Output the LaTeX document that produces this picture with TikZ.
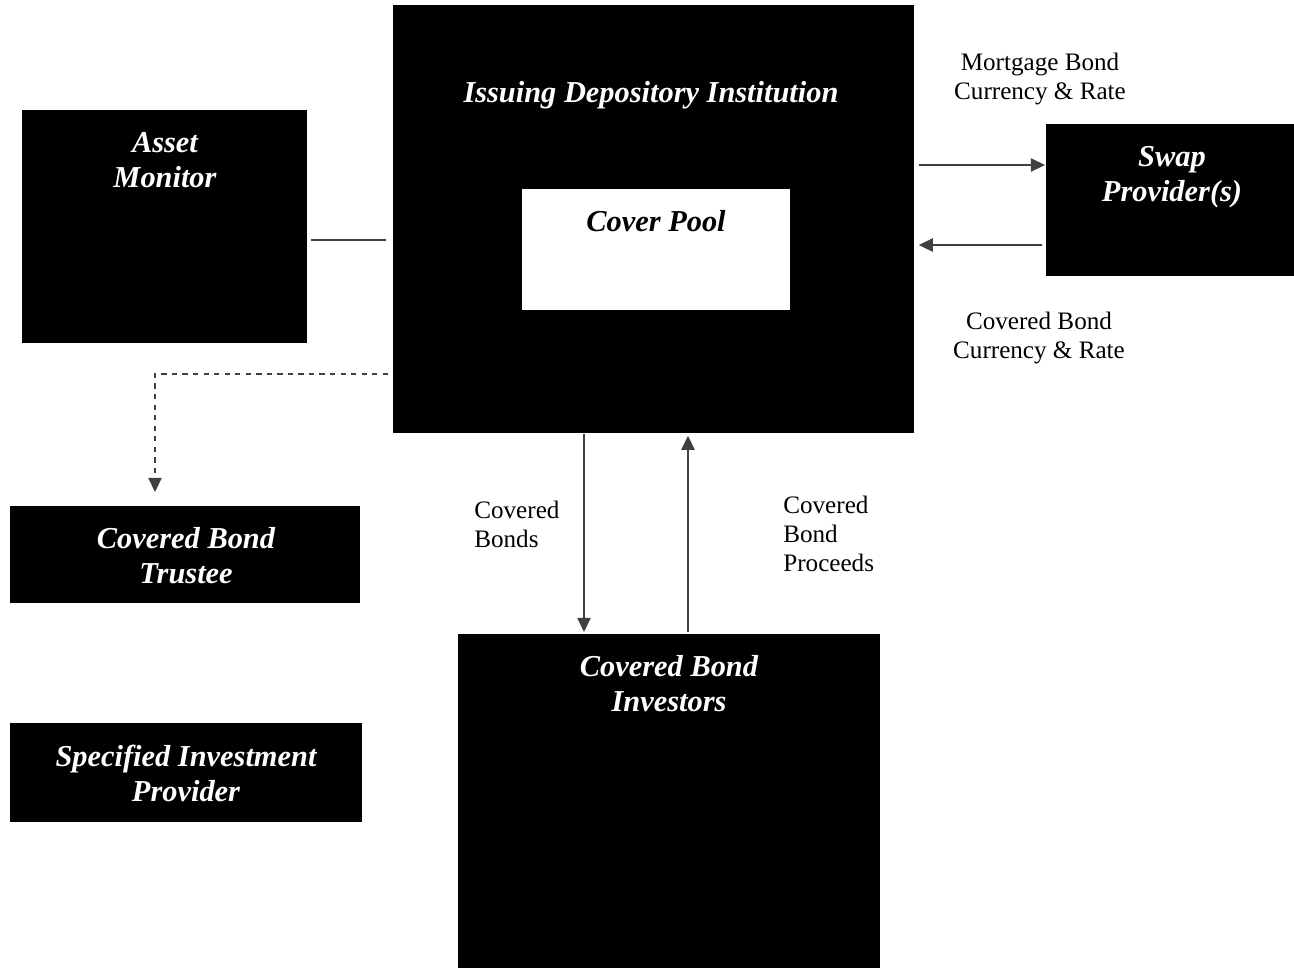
\documentclass[tikz,border=0pt]{standalone}
\usepackage{fontspec}
\setmainfont{Liberation Serif}
\usetikzlibrary{arrows.meta,calc}
\begin{document}
\begin{tikzpicture}[x=0.02cm,y=0.02cm,
  box/.style={draw=none,fill=black,inner sep=0pt,anchor=north west},
  whitebox/.style={draw=none,fill=white,inner sep=0pt,anchor=north west},
  boxtext/.style={text=white,font=\fontsize{17.3}{19.8}\selectfont\bfseries\itshape,align=center,anchor=north,inner sep=0pt},
  lbl/.style={font=\fontsize{14.3}{16.4}\selectfont,align=center,inner sep=0pt,anchor=north},
  conn/.style={draw=black!75,line width=0.8pt},
  tip/.style={-{Triangle[length=8pt,width=7.5pt]}}
]
\useasboundingbox (0,0) rectangle (1294,-968);
% boxes
\node[box,minimum width=285*0.02cm,minimum height=233*0.02cm] (am) at (22,-110) {};
\node[box,minimum width=521*0.02cm,minimum height=428*0.02cm] (idi) at (393,-5) {};
\node[whitebox,minimum width=268*0.02cm,minimum height=121*0.02cm] (pool) at (522,-189) {};
\node[box,minimum width=248*0.02cm,minimum height=152*0.02cm] (swap) at (1046,-124) {};
\node[box,minimum width=350*0.02cm,minimum height=97*0.02cm] (trustee) at (10,-506) {};
\node[box,minimum width=352*0.02cm,minimum height=99*0.02cm] (sip) at (10,-723) {};
\node[box,minimum width=422*0.02cm,minimum height=334*0.02cm] (inv) at (458,-634) {};
% box texts
\node[boxtext] (amt) at (165,-132) {Asset\\Monitor};
\node[boxtext] (idit) at (651,-81) {Issuing Depository Institution};
\node[boxtext,text=black] (poolt) at (656,-210) {Cover Pool};
\node[boxtext] (swapt) at (1172,-146) {Swap\\Provider(s)};
\node[boxtext] (trusteet) at (186,-527) {Covered Bond\\Trustee};
\node[boxtext] (sipt) at (186,-745) {Specified Investment\\Provider};
\node[boxtext] (invt) at (669,-655) {Covered Bond\\Investors};
% labels
\node[lbl] (l1) at (1040,-53) {Mortgage Bond\\Currency \& Rate};
\node[lbl] (l2) at (1039,-312) {Covered Bond\\Currency \& Rate};
\node[lbl,align=left,anchor=north west] (l3) at (474,-501) {Covered\\Bonds};
\node[lbl,align=left,anchor=north west] (l4) at (783,-496) {Covered\\Bond\\Proceeds};
% helper coordinates
\coordinate (yam) at (0,-240);
\coordinate (ydash) at (0,-374);
\coordinate (dcorner) at (155,-374);
\coordinate (ys1) at (0,-165);
\coordinate (ys2) at (0,-245);
\coordinate (xd) at (584,0);
\coordinate (xu) at (688,0);
% connectors
\draw[conn,shorten <=2\pgflinewidth,shorten >=7*0.02cm] (am.east |- yam) -- (idi.west |- yam);
\draw[conn,dashed,tip,shorten <=5*0.02cm,shorten >=14*0.02cm] (idi.west |- ydash) -- (dcorner) -- (trustee.north -| dcorner);
\draw[conn,tip,shorten <=4*0.02cm,shorten >=1*0.02cm] (idi.east |- ys1) -- (swap.west |- ys1);
\draw[conn,tip,shorten <=4*0.02cm,shorten >=4*0.02cm] (swap.west |- ys2) -- (idi.east |- ys2);
\draw[conn,tip,shorten >=2*0.02cm] (idi.south -| xd) -- (inv.north -| xd);
\draw[conn,tip,shorten <=2*0.02cm,shorten >=2*0.02cm] (inv.north -| xu) -- (idi.south -| xu);
\end{tikzpicture}
\end{document}
